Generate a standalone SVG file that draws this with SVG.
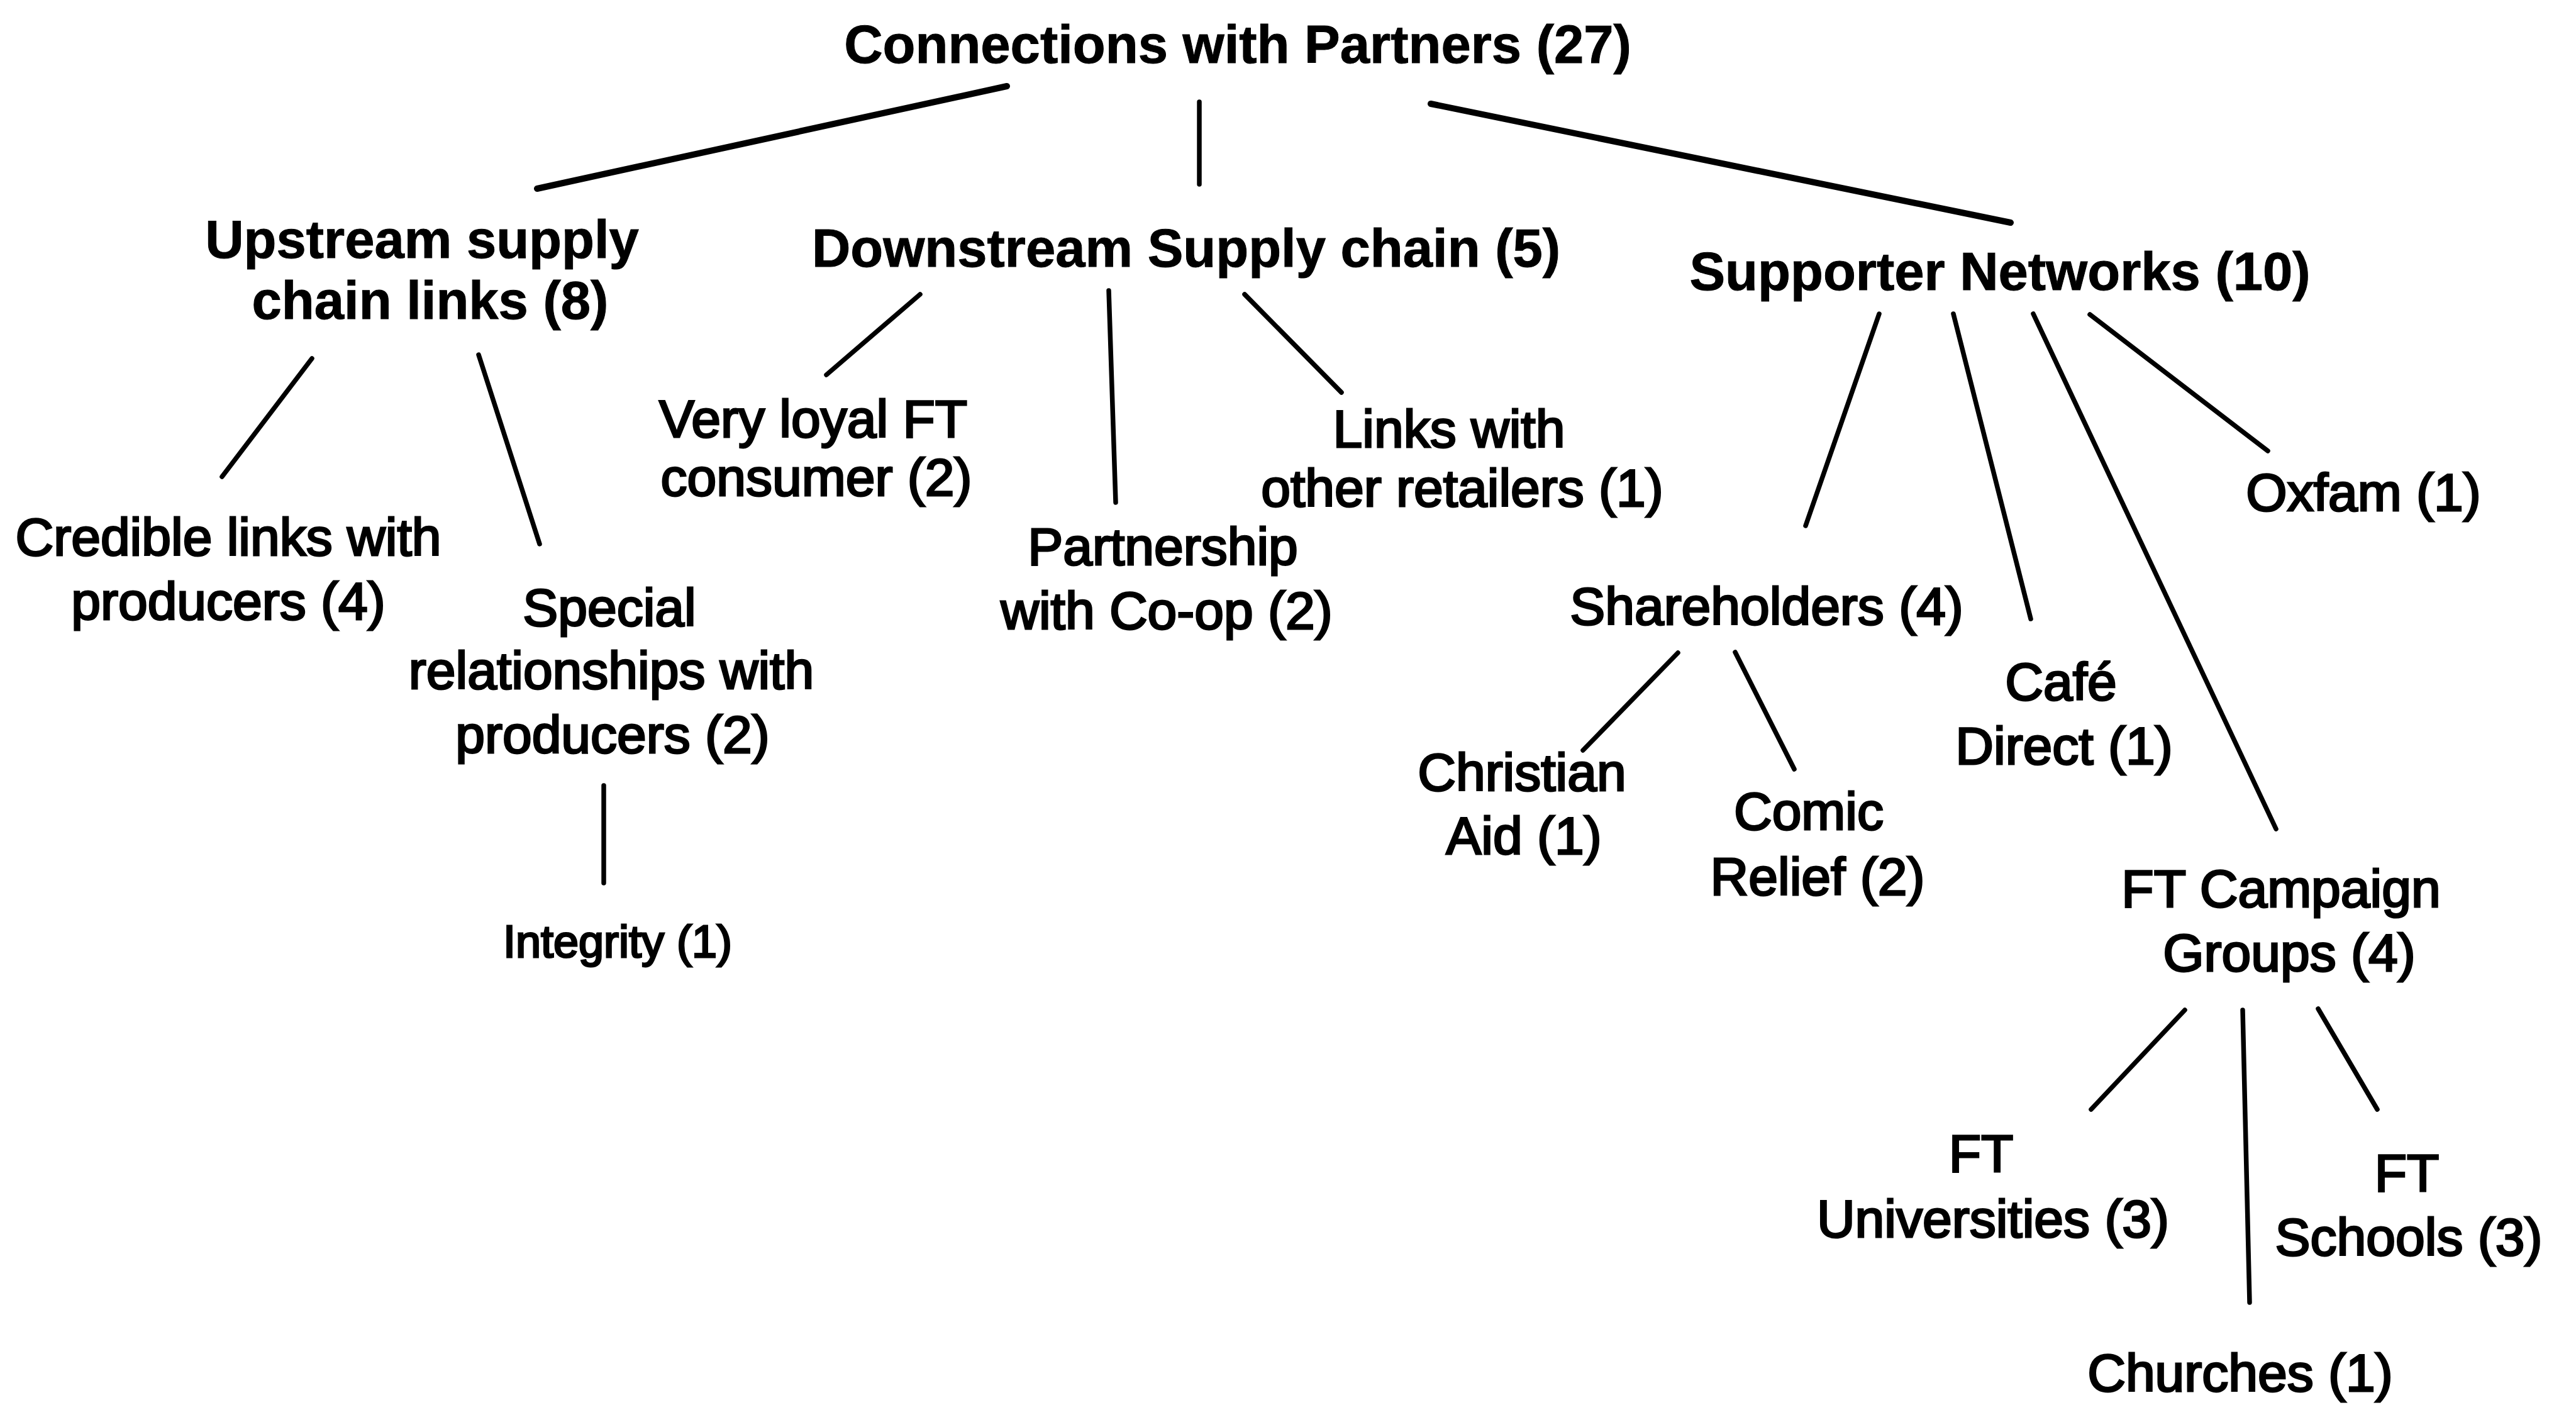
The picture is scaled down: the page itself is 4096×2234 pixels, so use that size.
<svg xmlns="http://www.w3.org/2000/svg" width="4096" height="2234" viewBox="0 0 4096 2234">
<style>
text{font-family:"Liberation Sans",Arial,sans-serif;fill:#000;text-anchor:middle}
.b{font-weight:bold;font-size:85px;stroke:#000;stroke-width:1px}
.r{font-weight:normal;font-size:84px;stroke:#000;stroke-width:3px}
.s{font-weight:normal;font-size:72px;stroke:#000;stroke-width:3px}
.c line{stroke:#000;stroke-linecap:round;fill:none}
.th{stroke-width:10px}
.tn{stroke-width:7.5px}
</style>
<rect width="4096" height="2234" fill="#fff"/>
<g id="connectors" class="c">
<line class="th" x1="1601" y1="137" x2="854" y2="300"/>
<line class="tn" x1="1907" y1="162" x2="1907" y2="293"/>
<line class="th" x1="2275" y1="165" x2="3197" y2="354"/>
<line class="tn" x1="496" y1="570" x2="353" y2="758"/>
<line class="tn" x1="761" y1="564" x2="858" y2="865"/>
<line class="tn" x1="960" y1="1249" x2="960" y2="1404"/>
<line class="tn" x1="1463" y1="468" x2="1314" y2="596"/>
<line class="tn" x1="1763" y1="462" x2="1774" y2="799"/>
<line class="tn" x1="1979" y1="468" x2="2133" y2="624"/>
<line class="tn" x1="2988" y1="499" x2="2871" y2="836"/>
<line class="tn" x1="3106" y1="499" x2="3229" y2="984"/>
<line class="tn" x1="3233" y1="499" x2="3619" y2="1318"/>
<line class="tn" x1="3323" y1="500" x2="3606" y2="717"/>
<line class="tn" x1="2668" y1="1038" x2="2517" y2="1193"/>
<line class="tn" x1="2759" y1="1037" x2="2853" y2="1223"/>
<line class="tn" x1="3474" y1="1606" x2="3325" y2="1764"/>
<line class="tn" x1="3566" y1="1606" x2="3577" y2="2071"/>
<line class="tn" x1="3686" y1="1604" x2="3780" y2="1764"/>
</g>
<g id="root"><text class="b" x="1968" y="100">Connections with Partners (27)</text></g>
<g id="upstream"><text class="b"><tspan x="671" y="410">Upstream supply</tspan><tspan x="684" y="507">chain links (8)</tspan></text></g>
<g id="downstream"><text class="b" x="1886" y="424">Downstream Supply chain (5)</text></g>
<g id="supporter"><text class="b" x="3180" y="461">Supporter Networks (10)</text></g>
<g id="credible"><text class="r"><tspan x="363" y="883">Credible links with</tspan><tspan x="363" y="985">producers (4)</tspan></text></g>
<g id="special"><text class="r"><tspan x="969" y="995">Special</tspan><tspan x="972" y="1095">relationships with</tspan><tspan x="974" y="1197">producers (2)</tspan></text></g>
<g id="integrity"><text class="s" x="982" y="1522">Integrity (1)</text></g>
<g id="loyal"><text class="r"><tspan x="1293" y="695">Very loyal FT</tspan><tspan x="1298" y="788">consumer (2)</tspan></text></g>
<g id="coop"><text class="r"><tspan x="1849" y="898">Partnership</tspan><tspan x="1855" y="1000">with Co-op (2)</tspan></text></g>
<g id="retailers"><text class="r"><tspan x="2304" y="711">Links with</tspan><tspan x="2325" y="805">other retailers (1)</tspan></text></g>
<g id="shareholders"><text class="r" x="2809" y="993">Shareholders (4)</text></g>
<g id="christian"><text class="r"><tspan x="2420" y="1257">Christian</tspan><tspan x="2423" y="1358">Aid (1)</tspan></text></g>
<g id="comic"><text class="r"><tspan x="2876" y="1319">Comic</tspan><tspan x="2890" y="1423">Relief (2)</tspan></text></g>
<g id="cafe"><text class="r"><tspan x="3277" y="1113">Café</tspan><tspan x="3282" y="1215">Direct (1)</tspan></text></g>
<g id="oxfam"><text class="r" x="3758" y="812">Oxfam (1)</text></g>
<g id="campaign"><text class="r"><tspan x="3627" y="1442">FT Campaign</tspan><tspan x="3640" y="1544">Groups (4)</tspan></text></g>
<g id="universities"><text class="r"><tspan x="3150" y="1863">FT</tspan><tspan x="3169" y="1967">Universities (3)</tspan></text></g>
<g id="schools"><text class="r"><tspan x="3827" y="1894">FT</tspan><tspan x="3830" y="1996">Schools (3)</tspan></text></g>
<g id="churches"><text class="r" x="3562" y="2212">Churches (1)</text></g>
</svg>
